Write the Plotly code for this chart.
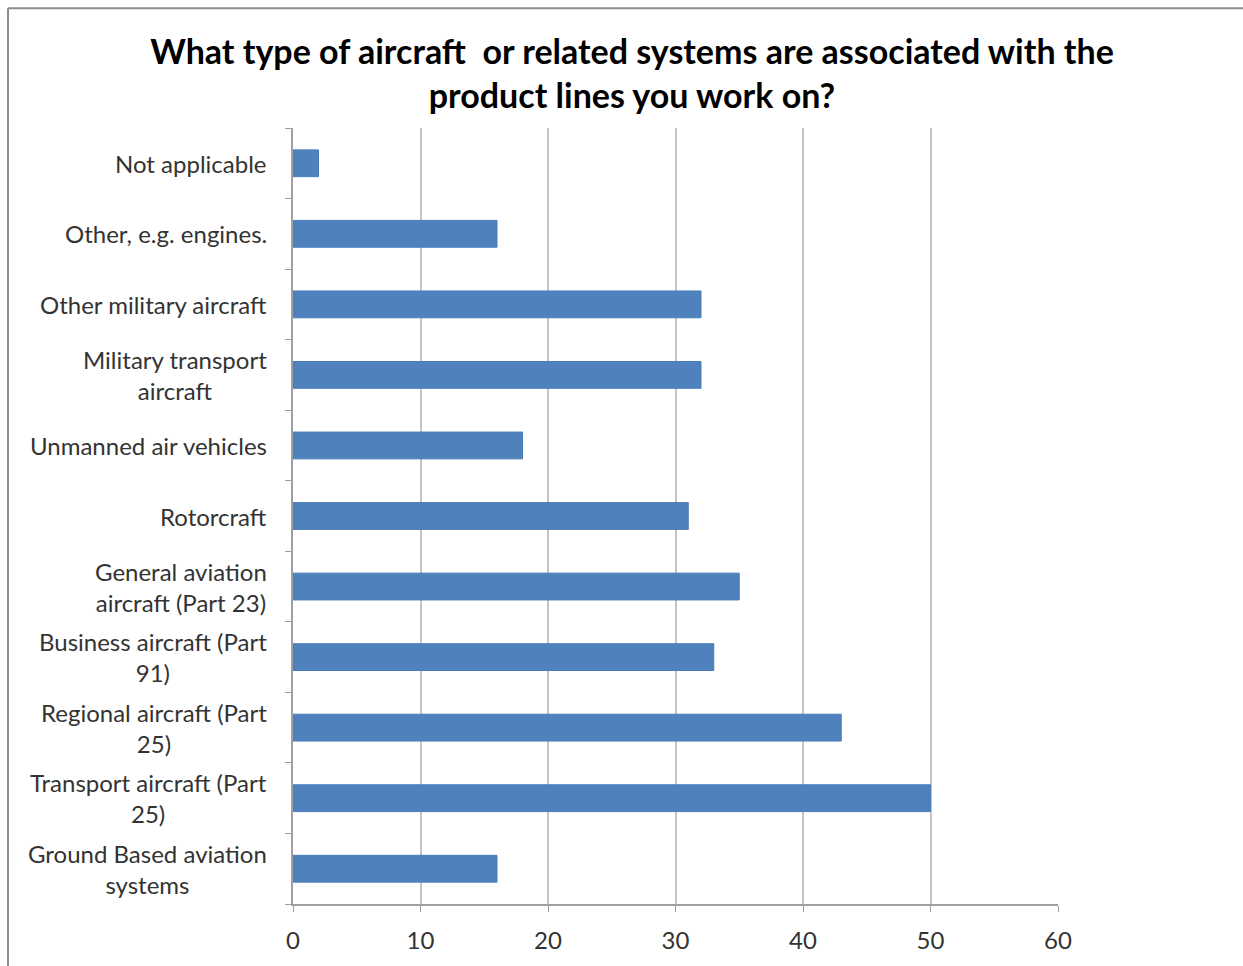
import plotly.graph_objects as go

categories = [
    "Ground Based aviation<br>systems",
    "Transport aircraft (Part<br>25)",
    "Regional aircraft (Part<br>25)",
    "Business aircraft (Part<br>91)",
    "General aviation<br>aircraft (Part 23)",
    "Rotorcraft",
    "Unmanned air vehicles",
    "Military transport<br>aircraft",
    "Other military aircraft",
    "Other, e.g. engines.",
    "Not applicable",
]
values = [16, 50, 43, 33, 35, 31, 18, 32, 32, 16, 2]
x_ticks = [0, 10, 20, 30, 40, 50, 60]

W, H = 1243, 966
L, R, T, B = 293, 1058, 128, 906
FONT = "Lato"

fig = go.Figure()
fig.add_trace(go.Bar(
    x=values, y=list(range(len(categories))), orientation="h",
    marker=dict(color="#4F81BD", line=dict(color="#4A7EBB", width=1)),
    width=0.38,
))

for i, c in enumerate(categories):
    fig.add_annotation(x=0, xref="paper", y=i, yref="y", text=c,
                       xanchor="right", yanchor="middle", xshift=-24,
                       align="center", showarrow=False,
                       font=dict(family=FONT, size=24, color="#333333"))

pw, ph = R - L, B - T
fig.add_shape(type="line", xref="paper", yref="paper",
              x0=(8 - L) / pw, x1=(1260 - L) / pw,
              y0=1 + (T - 8) / ph, y1=1 + (T - 8) / ph,
              line=dict(color="#8c8c8c", width=2))
fig.add_shape(type="line", xref="paper", yref="paper",
              x0=(8 - L) / pw, x1=(8 - L) / pw,
              y0=1 + (T - 8) / ph, y1=(B - 990) / ph,
              line=dict(color="#8c8c8c", width=2))

fig.update_layout(
    width=W, height=H,
    margin=dict(l=L, r=W - R, t=T, b=H - B),
    paper_bgcolor="white", plot_bgcolor="white",
    showlegend=False,
    title=dict(text="What type of aircraft  or related systems are associated with the<br>product lines you work on?",
               x=632 / W, xanchor="center", xref="container", y=1 - 64 / H, yanchor="middle",
               yref="container",
               font=dict(family=FONT, size=34, color="black", weight="bold")),
    xaxis=dict(range=[0, 60], tickvals=x_ticks, showgrid=True, gridcolor="#c4c4c4", gridwidth=2,
               showline=True, linecolor="#a0a0a0", linewidth=2, ticks="outside", ticklen=6,
               tickcolor="#a0a0a0", tickfont=dict(family=FONT, size=24, color="#333333"),
               ticklabelstandoff=8,
               zeroline=False, fixedrange=True),
    yaxis=dict(range=[-0.5, len(categories) - 0.5], tickvals=[i - 0.5 for i in range(len(categories) + 1)],
               showticklabels=False, showgrid=False, showline=True, linecolor="#a0a0a0", linewidth=2,
               ticks="outside", ticklen=6, tickcolor="#a0a0a0", zeroline=False),
)
fig.write_html("out.html")
